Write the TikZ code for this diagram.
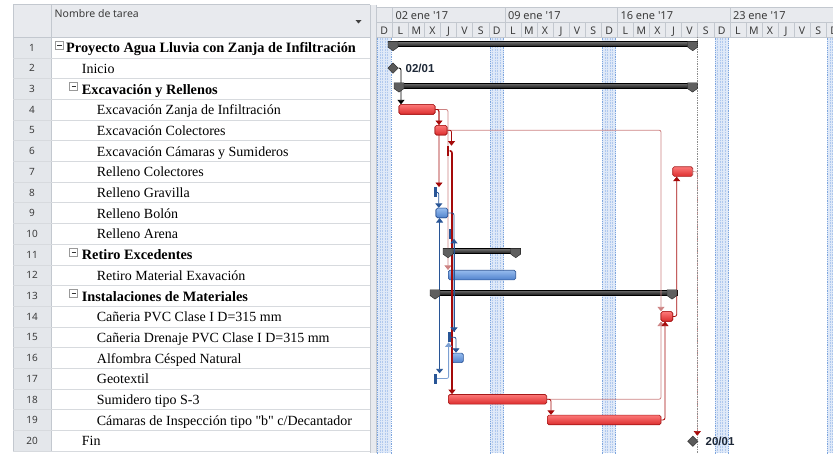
\documentclass[tikz,border=0pt]{standalone}
\usepackage{fontspec}
\setmainfont{Liberation Serif}
\newfontfamily\tnr{Liberation Serif}
\newfontfamily\uisans{Noto Sans}
\newfontfamily\lblsans{Liberation Sans}
\usetikzlibrary{arrows.meta,shapes.geometric}
\definecolor{hdrbg}{RGB}{232,234,238}
\definecolor{hdrline}{RGB}{195,200,207}
\definecolor{numbg}{RGB}{228,231,235}
\definecolor{gridc}{RGB}{215,218,222}
\definecolor{wkfill}{RGB}{223,233,248}
\definecolor{wkedge}{RGB}{125,165,222}
\definecolor{wkmid}{RGB}{175,200,238}
\definecolor{critred}{RGB}{165,10,10}
\definecolor{softred}{RGB}{205,130,130}
\definecolor{linkblue}{RGB}{40,85,150}
\definecolor{softblue}{RGB}{125,160,210}
\definecolor{rtop}{RGB}{252,120,120}
\definecolor{rbot}{RGB}{220,45,45}
\definecolor{rline}{RGB}{165,25,25}
\definecolor{btop}{RGB}{150,188,238}
\definecolor{bbot}{RGB}{80,130,205}
\definecolor{bline}{RGB}{45,85,150}
\definecolor{sumtop}{RGB}{115,115,115}
\definecolor{sumbot}{RGB}{25,25,25}
\definecolor{capfill}{RGB}{95,95,95}
\definecolor{msfill}{RGB}{90,90,90}
\definecolor{numtxt}{RGB}{60,60,60}
\definecolor{lbltxt}{RGB}{30,40,55}
\newcommand{\sumcapmark}[2]{\filldraw[fill=capfill, draw=black!85, line width=0.4pt] ({#1-5},{#2-6}) -- ({#1+5},{#2-6}) -- ({#1+5},{#2-0.2}) -- ({#1},{#2+3.4}) -- ({#1-5},{#2-0.2}) -- cycle;}
\begin{document}
\begin{tikzpicture}[x=1pt,y=-1pt,
  tsk/.style={rectangle, inner sep=0pt, minimum height=9.6pt, rounded corners=1.6pt, line width=0.6pt},
  redbar/.style={tsk, top color=rtop, bottom color=rbot, draw=rline},
  bluebar/.style={tsk, top color=btop, bottom color=bbot, draw=bline},
  thinred/.style={rectangle, inner sep=0pt, minimum height=10pt, minimum width=2.5pt, fill=critred},
  thinblue/.style={rectangle, inner sep=0pt, minimum height=10pt, minimum width=2.5pt, fill=linkblue},
  sumbar/.style={rectangle, inner sep=0pt, minimum height=5pt, top color=sumtop, bottom color=sumbot, draw=black, line width=0.5pt},
  mstone/.style={diamond, inner sep=0pt, minimum width=10.5pt, minimum height=10.5pt, fill=msfill, draw=black!80, line width=0.5pt},
  lnk/.style={line width=0.8pt, rounded corners=2pt, -{Triangle[width=7pt,length=4.5pt]}},
  crit/.style={lnk, draw=critred},
  soft/.style={lnk, draw=softred},
  blink/.style={lnk, draw=linkblue},
  sblink/.style={lnk, draw=softblue},
  blklink/.style={lnk, draw=black},
  rowtxt/.style={anchor=base west, inner sep=0pt, font=\tnr\fontsize{14}{16}\selectfont},
  rowbold/.style={anchor=base west, inner sep=0pt, font=\tnr\bfseries\fontsize{14.3}{16}\selectfont},
  rownum/.style={anchor=base, inner sep=0pt, text=numtxt, font=\uisans\fontsize{10}{12}\selectfont},
  hdrtxt/.style={anchor=base west, inner sep=0pt, text=numtxt, font=\uisans\fontsize{11}{13}\selectfont},
  daytxt/.style={anchor=base, inner sep=0pt, text=numtxt, font=\uisans\fontsize{10.5}{12}\selectfont},
  mslbl/.style={anchor=west, inner sep=0pt, text=lbltxt, font=\lblsans\bfseries\fontsize{11.5}{13}\selectfont},
  colbox/.style={rectangle, minimum size=8pt, inner sep=0pt, draw=black!40, fill=white, line width=0.5pt,
     path picture={\draw[black!80, line width=0.7pt] ([xshift=-2.2pt]path picture bounding box.center) -- ([xshift=2.2pt]path picture bounding box.center);}}
]
\useasboundingbox (0,0) rectangle (833,453);
\begin{scope}
\clip (0,0) rectangle (833,453);
% ---------- table ----------
\fill[hdrbg] (13.3,4.5) rectangle (370,37);
\fill[numbg] (13.3,37) rectangle (51,451);
\draw[hdrline] (13.3,4.5) -- (370,4.5);
\draw[hdrline] (13.3,37) -- (370,37);
\draw[hdrline] (13.3,4.5) -- (13.3,451);
\draw[hdrline] (51,4.5) -- (51,451);
\foreach \i in {1,...,20} {
  \draw[gridc] (13.3,{37+\i*20.7}) -- (370,{37+\i*20.7});
  \node[rownum] (n\i) at (32,{37+(\i-0.5)*20.7+3.8}) {\i};
}
\node[anchor=base west, inner sep=0pt, text=numtxt, font=\uisans\fontsize{10.5}{12}\selectfont] (hdr) at (54.5,17.5) {Nombre de tarea};
\fill[black!75] (355.5,20) -- (361.5,20) -- (358.5,23.5) -- cycle;
% splitter
\fill[hdrbg] (370,4.5) rectangle (376.5,453);
\draw[hdrline] (370,4.5) -- (370,453);
\draw[hdrline] (376.5,4.5) -- (376.5,453);
% collapse boxes
\node[colbox] (c1) at (59.3,44.9) {};
\node[colbox] (c3) at (73.7,86.3) {};
\node[colbox] (c11) at (73.7,251.9) {};
\node[colbox] (c13) at (73.7,293.3) {};
% row texts
\node[rowbold] (t1) at (66,52.65) {Proyecto Agua Lluvia con Zanja de Infiltración};
\node[rowtxt] (t2) at (81.7,73.35) {Inicio};
\node[rowbold] (t3) at (81.7,94.05) {Excavación y Rellenos};
\node[rowtxt] (t4) at (96.7,114.75) {Excavación Zanja de Infiltración};
\node[rowtxt] (t5) at (96.7,135.45) {Excavación Colectores};
\node[rowtxt] (t6) at (96.7,156.15) {Excavación Cámaras y Sumideros};
\node[rowtxt] (t7) at (96.7,176.85) {Relleno Colectores};
\node[rowtxt] (t8) at (96.7,197.55) {Relleno Gravilla};
\node[rowtxt] (t9) at (96.7,218.25) {Relleno Bolón};
\node[rowtxt] (t10) at (96.7,238.95) {Relleno Arena};
\node[rowbold] (t11) at (81.7,259.65) {Retiro Excedentes};
\node[rowtxt] (t12) at (96.7,280.35) {Retiro Material Exavación};
\node[rowbold] (t13) at (81.7,301.05) {Instalaciones de Materiales};
\node[rowtxt] (t14) at (96.7,321.75) {Cañeria PVC Clase I D=315 mm};
\node[rowtxt] (t15) at (96.7,342.45) {Cañeria Drenaje PVC Clase I D=315 mm};
\node[rowtxt] (t16) at (96.7,363.15) {Alfombra Césped Natural};
\node[rowtxt] (t17) at (96.7,383.85) {Geotextil};
\node[rowtxt] (t18) at (96.7,404.55) {Sumidero tipo S-3};
\node[rowtxt] (t19) at (96.7,425.25) {Cámaras de Inspección tipo "b" c/Decantador};
\node[rowtxt] (t20) at (81.7,445.95) {Fin};
% ---------- gantt header ----------
\fill[hdrbg] (376.5,7.5) rectangle (833,37);
\draw[hdrline] (376.5,7.5) -- (833,7.5);
\draw[hdrline] (376.5,22.5) -- (833,22.5);
\draw[hdrline] (376.5,37) -- (833,37);
\foreach \k in {1,...,28} {
  \draw[hdrline] ({376.23+16.07*\k},22.5) -- ({376.23+16.07*\k},37);
}
\foreach \k in {1,8,15,22} {
  \draw[hdrline] ({376.23+16.07*\k},7.5) -- ({376.23+16.07*\k},22.5);
}
\node[hdrtxt] (w1) at (395.3,19.2) {02 ene \textquotesingle17};
\node[hdrtxt] (w2) at (507.8,19.2) {09 ene \textquotesingle17};
\node[hdrtxt] (w3) at (620.3,19.2) {16 ene \textquotesingle17};
\node[hdrtxt] (w4) at (732.8,19.2) {23 ene \textquotesingle17};
\foreach \k/\d in {0/D,1/L,2/M,3/X,4/J,5/V,6/S,7/D,8/L,9/M,10/X,11/J,12/V,13/S,14/D,15/L,16/M,17/X,18/J,19/V,20/S,21/D,22/L,23/M,24/X,25/J,26/V,27/S,28/D} {
  \node[daytxt] (d\k) at ({376.23+16.07*(\k+0.5)},34) {\d};
}
% ---------- weekend bands ----------
\foreach \k in {0,7,14,21,28} {
  \fill[wkfill] ({376.23+16.07*\k+1},37.5) rectangle ({376.23+16.07*(\k+1)-1},453);
  \foreach \dx in {4,6.5,9,11.5} {
    \draw[wkmid, densely dotted, line width=0.6pt] ({376.23+16.07*\k+\dx},37.5) -- ++(0,416);
  }
  \draw[wkedge, densely dotted, line width=0.8pt] ({376.23+16.07*\k+1.4},37.5) -- ++(0,416);
  \draw[wkedge, densely dotted, line width=0.8pt] ({376.23+16.07*(\k+1)-1.4},37.5) -- ++(0,416);
}
% ---------- bars (nodes) ----------
\node[sumbar, minimum width=309.7pt] (s1) at (542.85,44.15) {};
\node[mstone] (m2) at (393,68.05) {};
\node[sumbar, minimum width=303.5pt] (s3) at (545.75,85.55) {};
\node[redbar, minimum width=36pt] (b4) at (417,109.45) {};
\node[redbar, minimum width=12pt] (b5) at (441,130.15) {};
\node[thinred] (b6) at (448.2,150.85) {};
\node[redbar, minimum width=20pt] (b7) at (682.7,171.55) {};
\node[thinblue] (b8) at (435.55,192.25) {};
\node[bluebar, minimum width=11.7pt] (b9) at (441.85,212.95) {};
\node[thinblue] (b10) at (449.75,233.65) {};
\node[sumbar, minimum width=77.7pt] (s11) at (481.85,251.15) {};
\node[bluebar, minimum width=67.4pt] (b12) at (482,275.05) {};
\node[sumbar, minimum width=247pt] (s13) at (553.5,292.55) {};
\node[redbar, minimum width=11.7pt] (b14) at (666.85,316.45) {};
\node[thinblue] (b15) at (449.55,337.15) {};
\node[bluebar, minimum width=11.3pt] (b16) at (457.65,357.85) {};
\node[thinblue] (b17) at (435.55,378.55) {};
\node[redbar, minimum width=98.4pt] (b18) at (497.5,399.25) {};
\node[redbar, minimum width=113.7pt] (b19) at (604.15,419.95) {};
\node[mstone] (m20) at (692.8,441.2) {};
% ---------- project end line ----------
\draw[critred, line width=0.5pt, densely dotted, rounded corners=2pt, -{Triangle[width=7pt,length=4.5pt]}] (b7.east) -| (697.3,0 |- m20.north);
\draw[black!45, densely dotted, line width=0.7pt] (697.3,37) -- (697.3,430);
\draw[black!45, densely dotted, line width=0.7pt] (697.3,437) -- (697.3,453);
% ---------- links ----------
\draw[blklink] (m2.east) -| (401,0 |- b4.north);
\draw[soft] (b4.east) -| (448,0 |- b12.north);
\draw[soft] (b5.east) -| (661,0 |- b14.north);
\draw[soft] (b18.east) -| (661,0 |- b14.south);
\draw[crit] (b4.east) -| (439,0 |- b8.north);
\draw[crit] (b4.east) -| (439,0 |- b5.north);
\draw[crit] (b5.east) -| (451.5,0 |- b6.north);
\draw[crit, line width=1.6pt] (b6.east) -| (452,0 |- b18.north);
\draw[crit] (b18.east) -| (551,0 |- b19.north);
\draw[crit] (b19.east) -| (665,0 |- b14.south);
\draw[crit] (b14.east) -| (676.7,0 |- b7.south);
\draw[blink] (b8.east) -| (438.8,0 |- b9.north);
\draw[blink, {Triangle[width=7pt,length=4.5pt]}-{Triangle[width=7pt,length=4.5pt]}] (439.6,0 |- b9.south) -- (439.6,0 |- b17.north);
\draw[blink] (b9.east) -| (454,0 |- b15.north);
\draw[blink] (454,0 |- b15.north) -- (454,0 |- b10.south);
\draw[blink] (b15.east) -| (456,0 |- b16.north);
\draw[sblink] (b17.east) -| (448.6,0 |- b15.south);
% ---------- redraw bars on top ----------
\node[redbar, minimum width=36pt] at (b4) {};
\node[redbar, minimum width=12pt] at (b5) {};
\node[thinred] at (b6) {};
\node[bluebar, minimum width=11.7pt] at (b9) {};
\node[thinblue] at (b10) {};
\node[thinblue] at (b15) {};
\node[redbar, minimum width=11.7pt] at (b14) {};
% ---------- summary caps ----------
\sumcapmark{393}{47.35}
\sumcapmark{692.7}{47.35}
\sumcapmark{399}{88.75}
\sumcapmark{692.5}{88.75}
\sumcapmark{448}{254.35}
\sumcapmark{515.7}{254.35}
\sumcapmark{435}{295.75}
\sumcapmark{672}{295.75}
% ---------- milestone labels ----------
\node[mslbl] (l2) at (405.5,68.05) {02/01};
\node[mslbl] (l20) at (705.5,441.2) {20/01};
\end{scope}
\end{tikzpicture}
\end{document}
